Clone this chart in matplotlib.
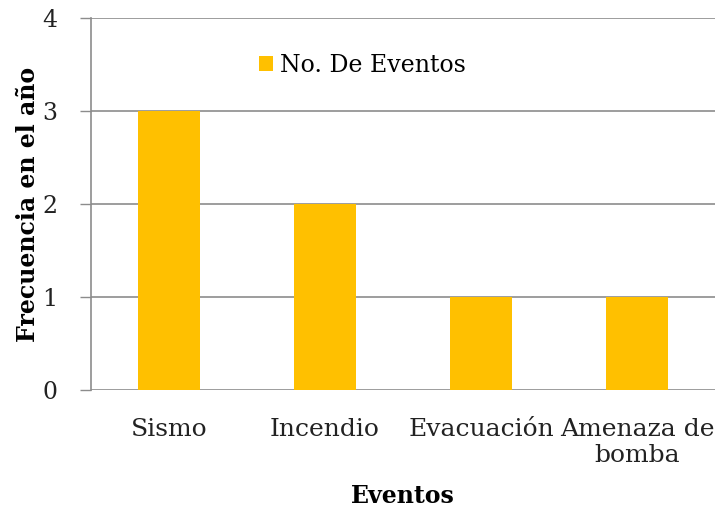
import matplotlib
matplotlib.use("Agg")
import matplotlib.pyplot as plt
import numpy as np

categorias = ["Sismo", "Incendio", "Evacuación", "Amenaza de\nbomba"]
eventos = [3, 2, 1, 1]
y_ticks = [0, 1, 2, 3, 4]
serie = "No. De Eventos"

plt.rcParams["font.family"] = ["DejaVu Serif"]

fig = plt.figure(figsize=(7.18, 5.22), dpi=100)
ax = fig.add_axes([0.1267, 0.2529, 0.8691, 0.7126])

x = np.arange(len(categorias))
ax.bar(x, eventos, width=0.4, color="#FFC000", label=serie, zorder=3)

ax.set_xlim(-0.5, len(categorias) - 0.5)
ax.set_ylim(0, 4)
ax.set_yticks(y_ticks)
ax.set_yticklabels([str(t) for t in y_ticks], fontsize=17, color="#222222")
ax.set_xticks(x)
ax.set_xticklabels(categorias, fontsize=18, color="#222222", linespacing=1.2)
ax.tick_params(axis="x", length=0, pad=20)
ax.tick_params(axis="y", length=8, width=1, color="#8c8c8c", pad=16)

ax.grid(axis="y", color="#8c8c8c", linewidth=1.2, zorder=0)
for s in ["top", "right", "bottom"]:
    ax.spines[s].set_visible(False)
ax.spines["left"].set_color("#8c8c8c")
ax.spines["left"].set_linewidth(1.2)

ax.set_ylabel("Frecuencia en el año", fontsize=17, fontweight="bold", labelpad=2)
ax.set_xlabel("Eventos", fontsize=17, fontweight="bold", labelpad=12)

ax.legend(loc="upper left", bbox_to_anchor=(0.235, 0.96), frameon=False,
          fontsize=17, handlelength=0.6, handleheight=0.6, handletextpad=0.3)

fig.savefig("out.png", dpi=100, facecolor="white")
